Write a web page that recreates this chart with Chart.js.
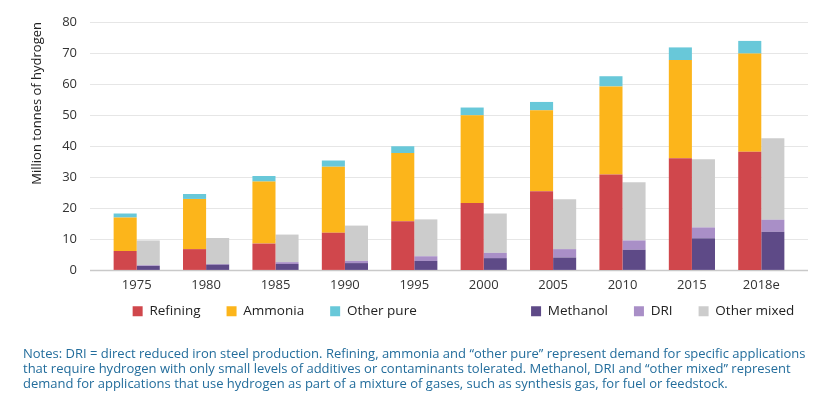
<!DOCTYPE html>
<html>
<head>
<meta charset="utf-8">
<script src="https://cdn.jsdelivr.net/npm/chart.js@4"></script>
<style>
  html, body { margin: 0; padding: 0; background: #ffffff; }
  #wrap { position: relative; width: 824px; height: 398px; overflow: hidden; }
  #chartBox { position: absolute; left: 0; top: 0; width: 824px; height: 351px; }
  #notes { position: absolute; left: 23px; top: 346px; font-family: "Open Sans", sans-serif; font-size: 13px; line-height: 15px; color: #236d9c; white-space: nowrap; }
</style>
</head>
<body>
<div id="wrap">
  <div id="chartBox"><canvas id="c" width="824" height="351"></canvas></div>
  <div id="notes">
    <div>Notes: DRI = direct reduced iron steel production. Refining, ammonia and “other pure” represent demand for specific applications</div>
    <div>that require hydrogen with only small levels of additives or contaminants tolerated. Methanol, DRI and “other mixed” represent</div>
    <div>demand for applications that use hydrogen as part of a mixture of gases, such as synthesis gas, for fuel or feedstock.</div>
  </div>
</div>
<script>
const years = ['1975', '1980', '1985', '1990', '1995', '2000', '2005', '2010', '2015', '2018e'];
const refining = [6.1, 6.7, 8.5, 12.0, 15.7, 21.6, 25.4, 30.8, 36.0, 38.1];
const ammonia = [10.8, 16.2, 20.0, 21.3, 22.0, 28.3, 26.1, 28.4, 31.7, 31.7];
const otherPure = [1.3, 1.6, 1.8, 2.0, 2.2, 2.5, 2.7, 3.3, 4.1, 4.1];
const methanol = [1.3, 1.7, 1.9, 2.2, 2.9, 3.8, 4.0, 6.5, 10.2, 12.3];
const dri = [0.2, 0.2, 0.6, 0.7, 1.5, 1.7, 2.7, 3.0, 3.5, 3.9];
const otherMixed = [8.0, 8.4, 8.9, 11.4, 11.9, 12.7, 16.1, 18.8, 22.0, 26.3];
const yTicks = [0, 10, 20, 30, 40, 50, 60, 70, 80];

const FONT = '"Open Sans", sans-serif';

const gridPlugin = {
  id: 'extGrid',
  beforeDatasetsDraw(chart) {
    const {ctx, chartArea, scales} = chart;
    const y = scales.y;
    ctx.save();
    y.ticks.forEach(t => {
      const py = Math.round(y.getPixelForValue(t.value)) + 0.5;
      ctx.beginPath();
      ctx.strokeStyle = t.value === 0 ? '#c9c9c9' : '#e6e6e6';
      ctx.lineWidth = t.value === 0 ? 1.5 : 1;
      ctx.moveTo(chartArea.left - 12, py);
      ctx.lineTo(chartArea.right + 12, py);
      ctx.stroke();
    });
    ctx.restore();
  }
};

const legendShift = {
  id: 'legendShift',
  afterLayout(chart) {
    const lg = chart.legend;
    if (!lg || !lg.lineWidths) return;
    const pad = lg.options.labels.padding;
    const start = (lg.left + pad + lg.right - lg.lineWidths[0]) / 2;
    const center = start + (lg.lineWidths[0] - pad) / 2;
    const dx = 463.5 - center;
    lg.left += dx; lg.right += dx;
    const dy = -23;
    lg.top += dy; lg.bottom += dy;
  }
};

new Chart(document.getElementById('c'), {
  type: 'bar',
  data: {
    labels: years,
    datasets: [
      { label: 'Refining', data: refining, backgroundColor: '#d0474c', stack: 'pure' },
      { label: 'Ammonia', data: ammonia, backgroundColor: '#fcb51b', stack: 'pure' },
      { label: 'Other pure', data: otherPure, backgroundColor: '#68c8d9', stack: 'pure' },
      { label: 'Methanol', data: methanol, backgroundColor: '#5e4a87', stack: 'mixed' },
      { label: 'DRI', data: dri, backgroundColor: '#a98fc7', stack: 'mixed' },
      { label: 'Other mixed', data: otherMixed, backgroundColor: '#cccccc', stack: 'mixed' }
    ]
  },
  options: {
    responsive: false,
    animation: false,
    layout: { padding: { top: 22, right: 28, left: 0, bottom: 0 } },
    datasets: { bar: { categoryPercentage: 0.665, barPercentage: 1.0, borderWidth: 0 } },
    scales: {
      x: {
        stacked: true,
        grid: { display: false, drawTicks: false },
        border: { display: false },
        ticks: { font: { family: FONT, size: 13 }, color: '#333333', padding: 8 }
      },
      y: {
        stacked: true,
        min: 0, max: 80,
        afterFit(scale) { scale.width = 102; scale.paddingTop = 0; scale.paddingBottom = 0; },
        afterBuildTicks(scale) { scale.ticks = yTicks.map(v => ({ value: v })); },
        grid: { display: false, drawTicks: false },
        border: { display: false },
        ticks: { font: { family: FONT, size: 13 }, color: '#333333', padding: 25 },
        title: {
          display: true,
          text: 'Million tonnes of hydrogen',
          align: 'end',
          font: { family: FONT, size: 13 },
          color: '#222222',
          padding: { top: 29, bottom: 0 }
        }
      }
    },
    plugins: {
      tooltip: { enabled: false },
      legend: {
        position: 'bottom',
        labels: {
          boxWidth: 10,
          boxHeight: 10,
          padding: 26,
          color: '#222222',
          font: { family: FONT, size: 13.5 },
          generateLabels(chart) {
            const items = Chart.defaults.plugins.legend.labels.generateLabels(chart);
            items.forEach(it => { it.lineWidth = 0; it.strokeStyle = 'rgba(0,0,0,0)'; });
            items.splice(3, 0, { text: '             ', fillStyle: 'rgba(0,0,0,0)', strokeStyle: 'rgba(0,0,0,0)', lineWidth: 0, hidden: false, datasetIndex: -1 });
            return items;
          }
        }
      }
    }
  },
  plugins: [gridPlugin, legendShift]
});
</script>
</body>
</html>
